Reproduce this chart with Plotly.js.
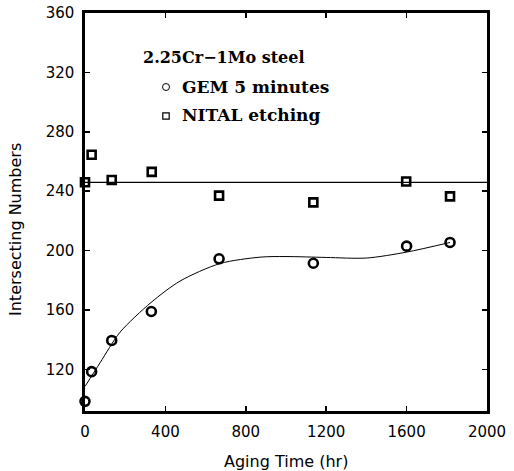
<!DOCTYPE html>
<html>
<head>
<meta charset="utf-8">
<script src="https://cdn.plot.ly/plotly-3.0.1.min.js"></script>
<style>
html,body{margin:0;padding:0;background:#fff;}
#chart{width:514px;height:471px;}
</style>
</head>
<body>
<div id="chart"></div>
<script>
// Measured data
var gemHours = [0, 33, 133, 330, 667, 1136, 1600, 1816];
var gemValues = [98.5, 118.5, 139.5, 159, 194.5, 191.5, 203, 205.5];
var nitalHours = [0, 33, 133, 332, 667, 1136, 1598, 1816];
var nitalValues = [246, 264.5, 247.5, 253, 237, 232.5, 246.5, 236.5];
// Fitted curve
var fitHours = [0, 75, 174, 328, 473, 672, 871, 1000, 1200, 1400, 1600, 1816];
var fitValues = [108.5, 124.5, 145, 165, 179.5, 191.3, 195.6, 196, 195.4, 195, 199, 205.5];
// NITAL mean line
var meanHours = [0, 2000];
var meanValues = [246, 246];

var xTicks = [0, 400, 800, 1200, 1600, 2000];
var yTicks = [120, 160, 200, 240, 280, 320, 360];

var legendTitle = '2.25Cr\u22121Mo steel';
var seriesNames = ['GEM 5 minutes', 'NITAL etching'];

var serif = "'DejaVu Serif', 'Liberation Serif', serif";
var sans = "'DejaVu Sans', 'Liberation Sans', sans-serif";

var traces = [
  {x: fitHours, y: fitValues, mode: 'lines', line: {color: '#000', width: 1, shape: 'spline', smoothing: 0.8}, showlegend: false, hoverinfo: 'skip'},
  {x: meanHours, y: meanValues, mode: 'lines', line: {color: '#000', width: 1.2}, showlegend: false, hoverinfo: 'skip'},
  {x: gemHours, y: gemValues, mode: 'markers', name: seriesNames[0], showlegend: false,
   marker: {symbol: 'circle-open', size: 9, color: '#000', line: {width: 2.6, color: '#000'}}, cliponaxis: false},
  {x: nitalHours, y: nitalValues, mode: 'markers', name: seriesNames[1], showlegend: false,
   marker: {symbol: 'square-open', size: 8, color: '#000', line: {width: 2.6, color: '#000'}}, cliponaxis: false}
];

// plot area: 85..487 px horizontally, 13..411 px vertically
function px(v) { return (v - 85) / 402; }
function py(v) { return (411 - v) / 398; }

var layout = {
  width: 514, height: 471,
  margin: {l: 85, r: 27, t: 13, b: 60},
  paper_bgcolor: '#fff', plot_bgcolor: '#fff',
  showlegend: false,
  xaxis: {
    range: [0, 2000], tickvals: xTicks, ticktext: xTicks.map(String),
    ticks: 'inside', ticklen: 5, tickwidth: 1.5, tickcolor: '#000',
    showline: true, linewidth: 2.6, linecolor: '#000', mirror: 'ticks',
    showgrid: false, zeroline: false,
    tickfont: {family: sans, size: 15, color: '#000'},
    ticklabelstandoff: 5
  },
  yaxis: {
    range: [92, 360], tickvals: yTicks, ticktext: yTicks.map(String),
    ticks: 'inside', ticklen: 5, tickwidth: 1.5, tickcolor: '#000',
    showline: true, linewidth: 2.6, linecolor: '#000', mirror: 'ticks',
    showgrid: false, zeroline: false,
    tickfont: {family: sans, size: 15, color: '#000'},
    ticklabelstandoff: 5
  },
  shapes: [
    {type: 'circle', xref: 'paper', yref: 'paper', xsizemode: 'pixel', ysizemode: 'pixel',
     xanchor: px(166), yanchor: py(87), x0: -3.5, x1: 3.5, y0: -3.5, y1: 3.5,
     line: {color: '#000', width: 1}},
    {type: 'rect', xref: 'paper', yref: 'paper', xsizemode: 'pixel', ysizemode: 'pixel',
     xanchor: px(166), yanchor: py(116), x0: -3.2, x1: 3.2, y0: -3.2, y1: 3.2,
     line: {color: '#000', width: 1.2}}
  ],
  annotations: [
    {text: '<b>' + legendTitle + '</b>', xref: 'paper', yref: 'paper', x: px(141), y: py(58), xanchor: 'left', yanchor: 'middle',
     showarrow: false, font: {family: serif, size: 16, color: '#000'}},
    {text: '<b>' + seriesNames[0] + '</b>', xref: 'paper', yref: 'paper', x: px(180), y: py(87), xanchor: 'left', yanchor: 'middle',
     showarrow: false, font: {family: serif, size: 17, color: '#000'}},
    {text: '<b>' + seriesNames[1] + '</b>', xref: 'paper', yref: 'paper', x: px(180), y: py(115), xanchor: 'left', yanchor: 'middle',
     showarrow: false, font: {family: serif, size: 17, color: '#000'}},
    {text: 'Aging Time (hr)', xref: 'paper', yref: 'paper', x: 0.5, y: py(461), yanchor: 'middle', xanchor: 'center',
     showarrow: false, font: {family: sans, size: 16, color: '#000'}},
    {text: 'Intersecting Numbers', xref: 'paper', yref: 'paper', x: px(15), y: py(230), xanchor: 'center', yanchor: 'middle',
     textangle: -90, showarrow: false, font: {family: sans, size: 16, color: '#000'}}
  ]
};

Plotly.newPlot('chart', traces, layout, {displayModeBar: false, staticPlot: true});
</script>
</body>
</html>
